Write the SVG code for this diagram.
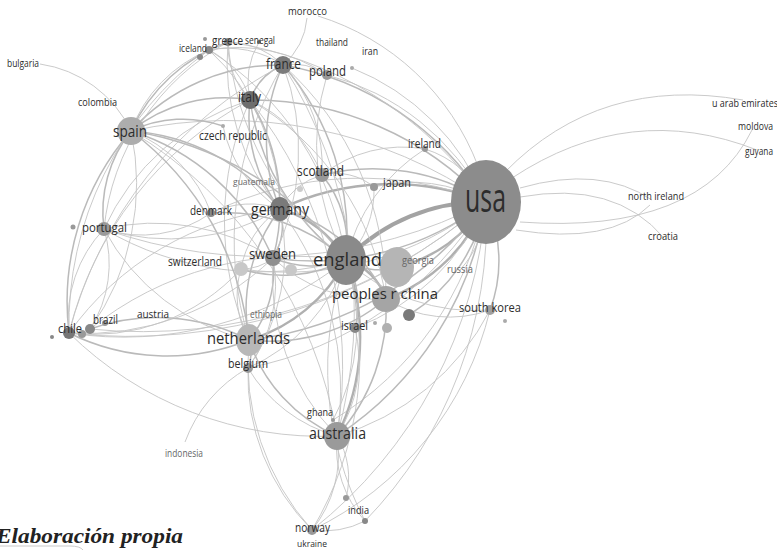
<svg xmlns="http://www.w3.org/2000/svg" width="777" height="550" viewBox="0 0 777 550">
<style>
.t{fill:none;stroke:#c4c4c4;stroke-width:.9}
.m{fill:none;stroke:#bababa;stroke-width:1.5}
.k{fill:none;stroke:#b0b0b0;stroke-width:2.4}
.x{fill:none;stroke:#a3a3a3;stroke-width:4}
text{font-family:"Open Sans","DejaVu Sans",sans-serif;fill:#2c2c2c}
.lt{fill:#666}
.cap{font-family:"Liberation Serif",serif;font-style:italic;font-weight:bold;fill:#222}
</style>
<rect width="777" height="550" fill="#fff"/>
<g id="connectors">
<path class="x" d="M486 202 A190 190 0 0 0 346 260"/>
<path class="k" d="M486 202 A170 170 0 0 1 386 299"/>
<path class="k" d="M486 202 A140 140 0 0 1 397 267"/>
<path class="k" d="M486 202 A260 260 0 0 0 280 209"/>
<path class="m" d="M486 202 A280 280 0 0 1 273 258"/>
<path class="m" d="M486 202 A340 340 0 0 1 249 340"/>
<path class="m" d="M486 202 A340 340 0 0 1 337 436"/>
<path class="m" d="M486 202 A300 300 0 0 0 283 65"/>
<path class="m" d="M486 202 A320 320 0 0 0 250 100"/>
<path class="t" d="M486 202 A450 450 0 0 0 131 131"/>
<path class="m" d="M486 202 A210 210 0 0 0 322 175"/>
<path class="t" d="M486 202 A150 150 0 0 0 374 187"/>
<path class="t" d="M486 202 A100 100 0 0 0 425 149"/>
<path class="m" d="M486 202 A140 140 0 0 1 490 310"/>
<path class="t" d="M486 202 A100 100 0 0 1 460 270"/>
<path class="t" d="M486 202 A230 230 0 0 1 355 328"/>
<path class="t" d="M486 202 A250 250 0 0 0 327 75"/>
<path class="t" d="M486 202 A240 240 0 0 0 352 68"/>
<path class="t" d="M486 202 A380 380 0 0 0 228 42"/>
<path class="t" d="M486 202 A480 480 0 0 1 104 229"/>
<path class="t" d="M486 202 A540 540 0 0 1 69 333"/>
<path class="t" d="M486 202 A520 520 0 0 1 90 329"/>
<path class="t" d="M486 202 A320 320 0 0 1 241 269"/>
<path class="t" d="M486 202 A340 340 0 0 0 211 213"/>
<path class="t" d="M486 202 A460 460 0 0 1 312 530"/>
<path class="t" d="M486 202 A430 430 0 0 1 365 521"/>
<path class="t" d="M486 202 A360 360 0 0 1 248 368"/>
<path class="t" d="M486 202 A330 330 0 0 1 333 420"/>
<path class="m" d="M486 202 A170 170 0 0 1 409 315"/>
<path class="t" d="M318 16 A250 250 0 0 1 478 166"/>
<path class="t" d="M307 18 A70 70 0 0 1 283 65"/>
<path class="t" d="M505 172 Q600 75 743 100"/>
<path class="t" d="M512 178 Q630 100 757 150"/>
<path class="t" d="M752 130 Q700 235 520 222"/>
<path class="t" d="M520 188 Q600 165 652 200"/>
<path class="t" d="M520 197 Q615 180 664 238"/>
<path class="t" d="M516 230 Q610 245 650 205"/>
<path class="k" d="M346 260 A60 60 0 0 1 386 299"/>
<path class="m" d="M346 260 A60 60 0 0 0 397 267"/>
<path class="k" d="M346 260 A110 110 0 0 0 280 209"/>
<path class="m" d="M346 260 A100 100 0 0 1 273 258"/>
<path class="k" d="M346 260 A160 160 0 0 1 249 340"/>
<path class="k" d="M346 260 A220 220 0 0 1 337 436"/>
<path class="m" d="M346 260 A330 330 0 0 0 131 131"/>
<path class="m" d="M346 260 A260 260 0 0 0 283 65"/>
<path class="m" d="M346 260 A240 240 0 0 1 250 100"/>
<path class="m" d="M346 260 A110 110 0 0 0 322 175"/>
<path class="t" d="M346 260 A100 100 0 0 0 374 187"/>
<path class="m" d="M346 260 A180 180 0 0 0 211 213"/>
<path class="t" d="M346 260 A310 310 0 0 1 104 229"/>
<path class="m" d="M346 260 A140 140 0 0 1 241 269"/>
<path class="t" d="M346 260 A360 360 0 0 1 69 333"/>
<path class="t" d="M346 260 A330 330 0 0 0 90 329"/>
<path class="t" d="M346 260 A180 180 0 0 1 248 368"/>
<path class="m" d="M346 260 A90 90 0 0 1 355 328"/>
<path class="t" d="M346 260 A190 190 0 0 0 490 310"/>
<path class="t" d="M346 260 A180 180 0 0 1 425 149"/>
<path class="t" d="M346 260 A240 240 0 0 1 327 75"/>
<path class="t" d="M346 260 A310 310 0 0 1 228 42"/>
<path class="t" d="M346 260 A340 340 0 0 1 312 530"/>
<path class="t" d="M346 260 A330 330 0 0 0 365 521"/>
<path class="t" d="M346 260 A200 200 0 0 1 333 420"/>
<path class="t" d="M346 260 A300 300 0 0 0 209 50"/>
<path class="m" d="M280 209 A180 180 0 0 1 283 65"/>
<path class="m" d="M280 209 A150 150 0 0 1 250 100"/>
<path class="m" d="M280 209 A210 210 0 0 0 131 131"/>
<path class="m" d="M280 209 A60 60 0 0 1 273 258"/>
<path class="m" d="M280 209 A165 165 0 0 0 249 340"/>
<path class="t" d="M280 209 A300 300 0 0 1 337 436"/>
<path class="t" d="M280 209 A70 70 0 0 1 322 175"/>
<path class="t" d="M280 209 A90 90 0 0 0 211 213"/>
<path class="t" d="M280 209 A220 220 0 0 1 104 229"/>
<path class="t" d="M280 209 A90 90 0 0 0 241 269"/>
<path class="t" d="M280 209 A300 300 0 0 0 69 333"/>
<path class="t" d="M280 209 A230 230 0 0 1 228 42"/>
<path class="t" d="M280 209 A220 220 0 0 0 209 50"/>
<path class="m" d="M280 209 A160 160 0 0 1 386 299"/>
<path class="t" d="M280 209 A130 130 0 0 1 223 126"/>
<path class="t" d="M280 209 A200 200 0 0 1 248 368"/>
<path class="m" d="M250 100 A60 60 0 0 1 283 65"/>
<path class="m" d="M250 100 A150 150 0 0 0 131 131"/>
<path class="t" d="M250 100 A80 80 0 0 1 228 42"/>
<path class="t" d="M250 100 A80 80 0 0 0 209 50"/>
<path class="t" d="M250 100 A80 80 0 0 1 259 42"/>
<path class="m" d="M250 100 A200 200 0 0 1 273 258"/>
<path class="t" d="M250 100 A300 300 0 0 0 249 340"/>
<path class="t" d="M250 100 A430 430 0 0 1 337 436"/>
<path class="t" d="M250 100 A240 240 0 0 0 104 229"/>
<path class="t" d="M250 100 A360 360 0 0 0 69 333"/>
<path class="t" d="M250 100 A280 280 0 0 1 386 299"/>
<path class="t" d="M250 100 A140 140 0 0 1 322 175"/>
<path class="m" d="M283 65 A200 200 0 0 0 131 131"/>
<path class="t" d="M283 65 A80 80 0 0 0 228 42"/>
<path class="t" d="M283 65 A340 340 0 0 0 249 340"/>
<path class="t" d="M283 65 A240 240 0 0 1 273 258"/>
<path class="t" d="M283 65 A460 460 0 0 1 337 436"/>
<path class="t" d="M283 65 A60 60 0 0 1 327 75"/>
<path class="t" d="M283 65 A420 420 0 0 0 69 333"/>
<path class="t" d="M283 65 A310 310 0 0 1 386 299"/>
<path class="t" d="M283 65 A150 150 0 0 1 322 175"/>
<path class="t" d="M283 65 A100 100 0 0 0 209 50"/>
<path class="t" d="M40 64 A120 120 0 0 1 131 131"/>
<path class="m" d="M131 131 A130 130 0 0 0 104 229"/>
<path class="m" d="M131 131 A260 260 0 0 0 69 333"/>
<path class="t" d="M131 131 A250 250 0 0 1 90 329"/>
<path class="m" d="M131 131 A170 170 0 0 1 228 42"/>
<path class="t" d="M131 131 A140 140 0 0 1 209 50"/>
<path class="m" d="M131 131 A300 300 0 0 1 249 340"/>
<path class="m" d="M131 131 A230 230 0 0 1 273 258"/>
<path class="t" d="M131 131 A440 440 0 0 1 337 436"/>
<path class="t" d="M131 131 A140 140 0 0 1 211 213"/>
<path class="m" d="M131 131 A120 120 0 0 1 223 126"/>
<path class="m" d="M273 258 A110 110 0 0 1 249 340"/>
<path class="t" d="M273 258 A230 230 0 0 0 337 436"/>
<path class="t" d="M273 258 A50 50 0 0 1 241 269"/>
<path class="t" d="M273 258 A270 270 0 0 1 69 333"/>
<path class="t" d="M273 258 A220 220 0 0 0 104 229"/>
<path class="t" d="M273 258 A140 140 0 0 1 248 368"/>
<path class="t" d="M273 258 A150 150 0 0 0 386 299"/>
<path class="m" d="M249 340 A160 160 0 0 0 337 436"/>
<path class="m" d="M249 340 A40 40 0 0 1 248 368"/>
<path class="m" d="M249 340 A220 220 0 0 1 69 333"/>
<path class="m" d="M249 340 A200 200 0 0 0 90 329"/>
<path class="t" d="M249 340 A220 220 0 0 1 104 229"/>
<path class="t" d="M249 340 A90 90 0 0 1 241 269"/>
<path class="t" d="M249 340 A250 250 0 0 0 312 530"/>
<path class="m" d="M249 340 A180 180 0 0 0 386 299"/>
<path class="t" d="M337 436 A120 120 0 0 1 312 530"/>
<path class="t" d="M337 436 A110 110 0 0 0 365 521"/>
<path class="t" d="M337 436 A80 80 0 0 1 346 498"/>
<path class="m" d="M337 436 A190 190 0 0 0 386 299"/>
<path class="t" d="M337 436 A150 150 0 0 1 248 368"/>
<path class="t" d="M337 436 A360 360 0 0 1 69 333"/>
<path class="t" d="M337 436 A140 140 0 0 0 355 328"/>
<path class="t" d="M337 436 A250 250 0 0 0 490 310"/>
<path class="t" d="M248 368 A140 140 0 0 0 185 442"/>
<path class="t" d="M248 368 A220 220 0 0 0 312 530"/>
<path class="t" d="M365 521 A90 90 0 0 1 312 530"/>
<path class="t" d="M312 530 A330 330 0 0 0 490 310"/>
<path class="t" d="M69 333 A130 130 0 0 1 104 229"/>
<path class="t" d="M90 329 A120 120 0 0 0 104 229"/>
<path class="t" d="M69 333 A340 340 0 0 1 209 50"/>
<path class="t" d="M104 229 A240 240 0 0 1 228 42"/>
<path class="t" d="M209 50 L228 42"/>
<path class="t" d="M386 299 A120 120 0 0 0 490 310"/>
<path class="t" d="M322 175 A60 60 0 0 1 374 187"/>
<path class="t" d="M322 175 A130 130 0 0 1 425 149"/>
<path class="t" d="M211 213 A120 120 0 0 1 104 229"/>
<path class="t" d="M241 269 A200 200 0 0 1 69 333"/>
<path class="t" d="M209 50 A160 160 0 0 1 327 75"/>
<path class="t" d="M0 546 L70 546 Q80 546 83 550"/>
</g>
<g id="n-usa"><ellipse cx="486" cy="202" rx="35" ry="42" fill="#8c8c8c"/><text x="465" y="212" font-size="40" textLength="41" lengthAdjust="spacingAndGlyphs">usa</text></g>
<g id="n-georgia"><ellipse cx="397" cy="267" rx="17" ry="20" fill="#b5b5b5"/><text class="lt" x="402" y="264" font-size="11" textLength="32" lengthAdjust="spacingAndGlyphs">georgia</text></g>
<g id="n-china"><ellipse cx="386" cy="299" rx="14" ry="13" fill="#a5a5a5"/><text x="332" y="299" font-size="15" textLength="106" lengthAdjust="spacingAndGlyphs">peoples r china</text></g>
<g id="n-england"><ellipse cx="346" cy="260" rx="20" ry="25" fill="#8a8a8a"/><text x="313" y="266" font-size="18" textLength="69" lengthAdjust="spacingAndGlyphs">england</text></g>
<g id="n-germany"><ellipse cx="280" cy="209" rx="10" ry="12" fill="#7a7a7a"/><text x="251" y="215" font-size="16" textLength="58" lengthAdjust="spacingAndGlyphs">germany</text></g>
<g id="n-sweden"><circle cx="273" cy="258" r="8" fill="#8f8f8f"/><text x="249" y="259" font-size="14" textLength="47" lengthAdjust="spacingAndGlyphs">sweden</text></g>
<g id="n-switzerland"><circle cx="241" cy="269" r="7" fill="#c8c8c8"/><circle cx="291" cy="270" r="6" fill="#c8c8c8"/><text x="168" y="266" font-size="12" textLength="54" lengthAdjust="spacingAndGlyphs">switzerland</text></g>
<g id="n-netherlands"><ellipse cx="249" cy="340" rx="13" ry="16" fill="#b8b8b8"/><text x="207" y="344" font-size="17" textLength="83" lengthAdjust="spacingAndGlyphs">netherlands</text></g>
<g id="n-belgium"><circle cx="248" cy="368" r="5" fill="#999"/><text x="228" y="368" font-size="13" textLength="40" lengthAdjust="spacingAndGlyphs">belgium</text></g>
<g id="n-ethiopia"><text class="lt" x="250" y="318" font-size="10" textLength="32" lengthAdjust="spacingAndGlyphs">ethiopia</text></g>
<g id="n-australia"><ellipse cx="337" cy="436" rx="13" ry="14" fill="#9a9a9a"/><text x="309" y="439" font-size="17" textLength="57" lengthAdjust="spacingAndGlyphs">australia</text></g>
<g id="n-ghana"><circle cx="333" cy="420" r="2" fill="#999"/><text x="307" y="416" font-size="10" textLength="26" lengthAdjust="spacingAndGlyphs">ghana</text></g>
<g id="n-india"><circle cx="346" cy="498" r="3" fill="#999"/><circle cx="365" cy="521" r="3" fill="#888"/><text x="348" y="514" font-size="11" textLength="21" lengthAdjust="spacingAndGlyphs">india</text></g>
<g id="n-norway"><circle cx="312" cy="530" r="5" fill="#999"/><text x="295" y="532" font-size="12" textLength="35" lengthAdjust="spacingAndGlyphs">norway</text></g>
<g id="n-ukraine"><text x="297" y="547" font-size="9" textLength="30" lengthAdjust="spacingAndGlyphs">ukraine</text></g>
<g id="n-indonesia"><text class="lt" x="165" y="457" font-size="10" textLength="38" lengthAdjust="spacingAndGlyphs">indonesia</text></g>
<g id="n-israel"><circle cx="355" cy="328" r="5" fill="#888"/><circle cx="375" cy="323" r="2" fill="#aaa"/><circle cx="387" cy="328" r="5" fill="#b0b0b0"/><circle cx="409" cy="315" r="6" fill="#7a7a7a"/><text x="341" y="330" font-size="12" textLength="27" lengthAdjust="spacingAndGlyphs">israel</text></g>
<g id="n-russia"><text class="lt" x="447" y="273" font-size="10" textLength="26" lengthAdjust="spacingAndGlyphs">russia</text></g>
<g id="n-south-korea"><circle cx="490" cy="310" r="5" fill="#a0a0a0"/><circle cx="505" cy="321" r="2" fill="#aaa"/><text x="459" y="312" font-size="12" textLength="62" lengthAdjust="spacingAndGlyphs">south korea</text></g>
<g id="n-scotland"><circle cx="322" cy="175" r="7" fill="#999"/><text x="297" y="176" font-size="15" textLength="47" lengthAdjust="spacingAndGlyphs">scotland</text></g>
<g id="n-guatemala"><circle cx="300" cy="189" r="3" fill="#ccc"/><text class="lt" x="233" y="185" font-size="9" textLength="42" lengthAdjust="spacingAndGlyphs">guatemala</text></g>
<g id="n-japan"><circle cx="374" cy="187" r="4" fill="#999"/><text x="383" y="187" font-size="12" textLength="28" lengthAdjust="spacingAndGlyphs">japan</text></g>
<g id="n-denmark"><circle cx="211" cy="213" r="4" fill="#888"/><text x="190" y="215" font-size="12" textLength="42" lengthAdjust="spacingAndGlyphs">denmark</text></g>
<g id="n-ireland"><circle cx="425" cy="149" r="3" fill="#999"/><text x="408" y="148" font-size="12" textLength="33" lengthAdjust="spacingAndGlyphs">ireland</text></g>
<g id="n-spain"><circle cx="131" cy="131" r="14" fill="#adadad"/><text x="113" y="137" font-size="17" textLength="34" lengthAdjust="spacingAndGlyphs">spain</text></g>
<g id="n-colombia"><text x="78" y="106" font-size="11" textLength="39" lengthAdjust="spacingAndGlyphs">colombia</text></g>
<g id="n-bulgaria"><text x="7" y="67" font-size="10" textLength="32" lengthAdjust="spacingAndGlyphs">bulgaria</text></g>
<g id="n-portugal"><circle cx="104" cy="229" r="7" fill="#9a9a9a"/><circle cx="73" cy="227" r="2.5" fill="#999"/><text x="82" y="232" font-size="13" textLength="45" lengthAdjust="spacingAndGlyphs">portugal</text></g>
<g id="n-austria"><text x="137" y="318" font-size="11" textLength="32" lengthAdjust="spacingAndGlyphs">austria</text></g>
<g id="n-brazil"><circle cx="90" cy="329" r="5" fill="#888"/><circle cx="82" cy="334" r="4" fill="#999"/><circle cx="105" cy="323" r="3" fill="#999"/><text x="93" y="324" font-size="12" textLength="25" lengthAdjust="spacingAndGlyphs">brazil</text></g>
<g id="n-chile"><circle cx="69" cy="333" r="6" fill="#777"/><circle cx="52" cy="337" r="2" fill="#888"/><text x="58" y="333" font-size="12" textLength="24" lengthAdjust="spacingAndGlyphs">chile</text></g>
<g id="n-italy"><circle cx="250" cy="100" r="9" fill="#6e6e6e"/><text x="238" y="102" font-size="14" textLength="23" lengthAdjust="spacingAndGlyphs">italy</text></g>
<g id="n-czech-republic"><circle cx="223" cy="126" r="2" fill="#aaa"/><text x="199" y="140" font-size="12" textLength="68" lengthAdjust="spacingAndGlyphs">czech republic</text></g>
<g id="n-france"><circle cx="283" cy="65" r="9" fill="#7c7c7c"/><text x="266" y="69" font-size="15" textLength="35" lengthAdjust="spacingAndGlyphs">france</text></g>
<g id="n-poland"><circle cx="327" cy="75" r="5" fill="#999"/><circle cx="352" cy="68" r="2" fill="#aaa"/><text x="309" y="76" font-size="14" textLength="37" lengthAdjust="spacingAndGlyphs">poland</text></g>
<g id="n-thailand"><text x="316" y="46" font-size="10" textLength="32" lengthAdjust="spacingAndGlyphs">thailand</text></g>
<g id="n-iran"><text x="362" y="55" font-size="10" textLength="16" lengthAdjust="spacingAndGlyphs">iran</text></g>
<g id="n-morocco"><text x="288" y="15" font-size="10" textLength="39" lengthAdjust="spacingAndGlyphs">morocco</text></g>
<g id="n-iceland"><circle cx="209" cy="50" r="4" fill="#888"/><circle cx="200" cy="57" r="3" fill="#888"/><circle cx="205" cy="39" r="2" fill="#999"/><text x="179" y="52" font-size="10" textLength="28" lengthAdjust="spacingAndGlyphs">iceland</text></g>
<g id="n-greece"><circle cx="228" cy="42" r="4" fill="#888"/><text x="212" y="45" font-size="13" textLength="31" lengthAdjust="spacingAndGlyphs">greece</text></g>
<g id="n-senegal"><circle cx="259" cy="42" r="2" fill="#777"/><text x="245" y="44" font-size="10" textLength="30" lengthAdjust="spacingAndGlyphs">senegal</text></g>
<g id="n-uae"><text x="712" y="107" font-size="11" textLength="66" lengthAdjust="spacingAndGlyphs">u arab emirates</text></g>
<g id="n-moldova"><text x="738" y="130" font-size="10" textLength="35" lengthAdjust="spacingAndGlyphs">moldova</text></g>
<g id="n-guyana"><text x="745" y="155" font-size="10" textLength="28" lengthAdjust="spacingAndGlyphs">guyana</text></g>
<g id="n-north-ireland"><text x="628" y="200" font-size="11" textLength="56" lengthAdjust="spacingAndGlyphs">north ireland</text></g>
<g id="n-croatia"><text x="648" y="240" font-size="11" textLength="30" lengthAdjust="spacingAndGlyphs">croatia</text></g>
<text class="cap" x="-4" y="543" font-size="21" textLength="187" lengthAdjust="spacingAndGlyphs">Elaboración propia</text>
</svg>
